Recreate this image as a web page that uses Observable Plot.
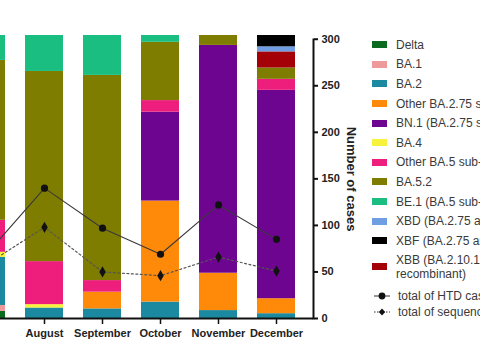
<!DOCTYPE html>
<html><head><meta charset="utf-8">
<script src="https://cdn.jsdelivr.net/npm/d3@7"></script>
<script src="https://cdn.jsdelivr.net/npm/@observablehq/plot@0.6"></script>
<style>
body{margin:0;background:#fff;overflow:hidden;font-family:"Liberation Sans",Arial,sans-serif}
#wrap{position:relative;width:480px;height:360px;overflow:hidden}
#legend{position:absolute;left:372px;top:35px;width:108px;overflow:hidden;white-space:nowrap;color:#3a3a3a;font-size:12px;line-height:14px}
.row{display:flex;align-items:center;height:19.6px}
.sw{flex:none;width:15px;height:7px;margin-right:9px}
.row.two{height:32px}
.lrow{display:flex;align-items:center;height:16px}
.lrow svg{flex:none;margin-right:6px}
</style></head>
<body><div id="wrap"><div id="chart"></div><div id="legend"></div></div>
<script>
const months = ["July","August","September","October","November","December"];
const variants = ["Delta","BA.1","BA.2","Other BA.2.75","BN.1","BA.4","Other BA.5","BA.5.2","BE.1","XBB","XBD","XBF"];
const variantColors = ["#0a6b1f","#ef9a9a","#1b8aa0","#ff8a0a","#6e0590","#f7f23c","#ee1f7c","#7f7d00","#19be80","#a30008","#6f9fe2","#000000"];
const legendOrder = ["Delta","BA.1","BA.2","Other BA.2.75","BN.1","BA.4","Other BA.5","BA.5.2","BE.1","XBD","XBF","XBB"];
const legendLabels = ["Delta","BA.1","BA.2","Other BA.2.75 sub-lineages","BN.1 (BA.2.75 sub-lineage)","BA.4","Other BA.5 sub-lineages","BA.5.2","BE.1 (BA.5 sub-lineage)","XBD (BA.2.75 and BF.5 recombinant)","XBF (BA.2.75 and BA.5 recombinant)","XBB (BA.2.10.1 and BA.2.75\nrecombinant)"];
// percentages per month, in `variants` order
const pctJuly      = [2.5,2.1,17.0,0,0,1.8,11.3,56.5,8.8,0,0,0];
const pctAugust    = [0,0,3.7,0,0,1.2,15.2,67.2,12.7,0,0,0];
const pctSeptember = [0,0,3.4,5.9,0,0,4.1,72.5,14.1,0,0,0];
const pctOctober   = [0,0,5.8,35.7,31.4,0,4.1,20.6,2.4,0,0,0];
const pctNovember  = [0,0,2.8,13.2,80.5,0,0,3.5,0,0,0,0];
const pctDecember  = [0,0,1.7,5.3,73.7,0,3.9,4.0,0,5.7,1.8,4.0];
const htdCases       = [69,140,97,69,122,85];
const sequencedCases = [58,98,50,46,66,51];
const caseTicks = [0,50,100,150,200,250,300];
const casesAtFullBar = 304;   // right-axis value level with the top of the 100% bars
const lineLegend = ["total of HTD cases","total of sequenced cases"];

const pctByMonth = [pctJuly,pctAugust,pctSeptember,pctOctober,pctNovember,pctDecember];
const rows = months.flatMap((m,i)=>variants.map((v,j)=>({month:m,variant:v,pct:pctByMonth[i][j]})));
const lineRows = months.map((m,i)=>({month:m,htd:htdCases[i],seq:sequencedCases[i]}));
const toY = c => c / casesAtFullBar;

const chart = Plot.plot({
  width:480, height:360,
  marginLeft:0, marginRight:167, marginTop:35, marginBottom:42,
  style:{fontFamily:"Liberation Sans, Arial, sans-serif", color:"#222", background:"transparent"},
  x:{type:"band", domain:months, range:[-53,315], padding:0.345, round:false, axis:null},
  y:{domain:[0,1], axis:null},
  color:{domain:variants, range:variantColors},
  marks:[
    Plot.barY(rows, Plot.stackY({x:"month", y:"pct", fill:"variant", order:variants, offset:"normalize"})),
    Plot.line(lineRows, {x:"month", y:d=>toY(d.seq), stroke:"#555", strokeWidth:1.2, strokeDasharray:"2,2.5"}),
    Plot.dot(lineRows, {x:"month", y:d=>toY(d.seq), symbol:"diamond", r:3.4, fill:"#111", stroke:"none"}),
    Plot.line(lineRows, {x:"month", y:d=>toY(d.htd), stroke:"#3a3a3a", strokeWidth:1.1}),
    Plot.dot(lineRows, {x:"month", y:d=>toY(d.htd), r:3.6, fill:"#111", stroke:"none"}),
    Plot.ruleY([0], {stroke:"#111", strokeWidth:2}),
    Plot.frame({anchor:"right", stroke:"#111", strokeWidth:2, insetTop:4}),
    Plot.axisX({anchor:"bottom", ticks:months.slice(1), tickSize:6, tickPadding:5, strokeWidth:1.5, stroke:"#111", fontSize:11, fontWeight:"bold", fill:"#222", label:null}),
    Plot.axisY({anchor:"right", ticks:caseTicks.map(toY), tickFormat:d=>Math.round(d*casesAtFullBar), tickSize:4, tickPadding:4, strokeWidth:2, stroke:"#111", fontSize:11, fontWeight:"bold", fill:"#222", label:null}),
    Plot.text(["Number of cases"], {frameAnchor:"right", textAnchor:"middle", lineAnchor:"middle", rotate:90, dx:38, dy:2, fontSize:13, fontWeight:"bold", fill:"#222"})
  ]
});
document.getElementById("chart").appendChild(chart);

const legend = document.getElementById("legend");
legendOrder.forEach((v,i)=>{
  const row = document.createElement("div");
  const label = legendLabels[i];
  row.className = "row" + (label.includes("\n") ? " two" : "");
  const sw = document.createElement("span");
  sw.className = "sw";
  sw.style.background = variantColors[variants.indexOf(v)];
  const t = document.createElement("span");
  t.style.whiteSpace = "pre";
  t.textContent = label;
  row.appendChild(sw); row.appendChild(t);
  legend.appendChild(row);
});
const gap = document.createElement("div"); gap.style.height = "5.6px"; legend.appendChild(gap);
lineLegend.forEach((lab,i)=>{
  const row = document.createElement("div");
  row.className = "lrow";
  const dash = i === 0 ? "" : ' stroke-dasharray="1.5,1.5"';
  const marker = i === 0 ? '<circle cx="10" cy="5" r="3.4" fill="#111"/>' : '<path d="M10,1.6L13.2,5L10,8.4L6.8,5Z" fill="#111"/>';
  row.innerHTML = `<svg width="20" height="10"><line x1="2" y1="5" x2="18" y2="5" stroke="#333" stroke-width="1"${dash}/>${marker}</svg><span>${lab}</span>`;
  legend.appendChild(row);
});
</script>
</body></html>
